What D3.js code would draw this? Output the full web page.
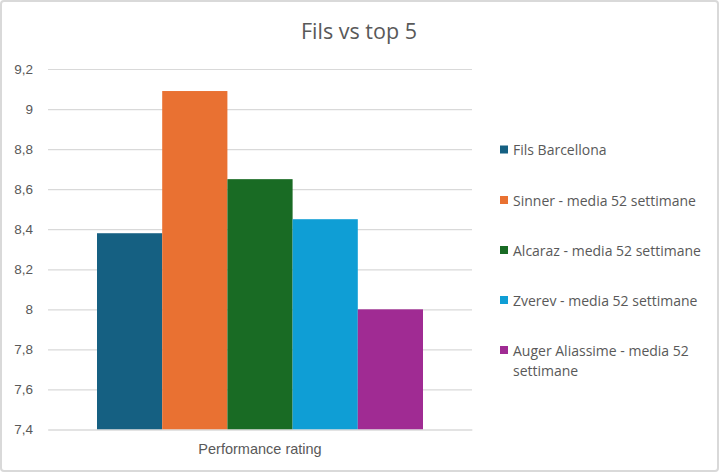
<!DOCTYPE html>
<html><head><meta charset="utf-8">
<script src="https://cdn.jsdelivr.net/npm/d3@7"></script>
<style>
html,body{margin:0;padding:0;background:#fff;}
svg{display:block;font-family:"Open Sans","Noto Sans",sans-serif;}
</style></head>
<body>
<svg id="chart" width="720" height="473"></svg>
<script>
const title = "Fils vs top 5";
const category = "Performance rating";
const seriesNames = ["Fils Barcellona","Sinner - media 52 settimane","Alcaraz - media 52 settimane","Zverev - media 52 settimane","Auger Aliassime - media 52 settimane"];
const seriesValues = [8.38, 9.09, 8.65, 8.45, 8.0];
const seriesColors = ["#156082","#E97132","#196B24","#0F9ED5","#A02B93"];
const yTicks = [7.4,7.6,7.8,8.0,8.2,8.4,8.6,8.8,9.0,9.2];

(function(){
const svg = d3.select("#chart");
svg.append("rect").attr("x",1).attr("y",1).attr("width",717).attr("height",470)
  .attr("rx",3).attr("fill","#fff").attr("stroke","#d9d9d9").attr("stroke-width",2);

const pLeft=48, pRight=472, pTop=69, pBottom=429.5;
const y = d3.scaleLinear().domain([7.4,9.2]).range([pBottom,pTop]);
const xCat = d3.scaleBand().domain([category]).range([pLeft,pRight]).paddingInner(0).paddingOuter(0);
const groupPad = 49;
const xSeries = d3.scaleBand().domain(seriesNames)
  .range([xCat(category)+groupPad, xCat(category)+xCat.bandwidth()-groupPad]);

const fmt = v => d3.format("")(+v.toFixed(1)).replace(".",",");

const yAxis = d3.axisLeft(y).tickValues(yTicks).tickSize(-(pRight-pLeft)).tickFormat(fmt).tickPadding(16);
const gy = svg.append("g").attr("transform",`translate(${pLeft},0)`).call(yAxis);
gy.select(".domain").remove();
gy.selectAll(".tick line").attr("stroke","#d9d9d9").attr("stroke-width",1.2);
gy.selectAll(".tick text").attr("fill","#595959").style("font-size","13.5px").attr("x",-15);

svg.append("g").selectAll("rect").data(seriesNames).join("rect")
  .attr("x",d=>xSeries(d)).attr("width",xSeries.bandwidth())
  .attr("y",(d,i)=>y(seriesValues[i])).attr("height",(d,i)=>pBottom-y(seriesValues[i]))
  .attr("fill",(d,i)=>seriesColors[i]);

const xAxis = d3.axisBottom(xCat).tickSize(0).tickPadding(14);
const gx = svg.append("g").attr("transform",`translate(0,${pBottom})`).call(xAxis);
gx.select(".domain").attr("stroke","#d9d9d9").attr("stroke-width",1.2);
gx.selectAll(".tick text").attr("fill","#595959").style("font-size","14.5px");

svg.append("text").attr("x",359).attr("y",39).attr("text-anchor","middle")
  .attr("fill","#595959").style("font-size","21.5px").text(title);

const legendY = [150,200.5,250.5,300.5,350.5];
const lg = svg.append("g");
seriesNames.forEach((name,i)=>{
  lg.append("rect").attr("x",500).attr("y",legendY[i]-4.5).attr("width",8).attr("height",8).attr("fill",seriesColors[i]);
  const t = lg.append("text").attr("x",513).attr("y",legendY[i]+5).attr("fill","#595959").style("font-size","14px");
  if (name.length > 30) {
    const words = name.split(" ");
    t.append("tspan").attr("x",513).text(words.slice(0,-1).join(" "));
    t.append("tspan").attr("x",513).attr("dy",20).text(words[words.length-1]);
  } else t.text(name);
});
})();
</script>
</body></html>
